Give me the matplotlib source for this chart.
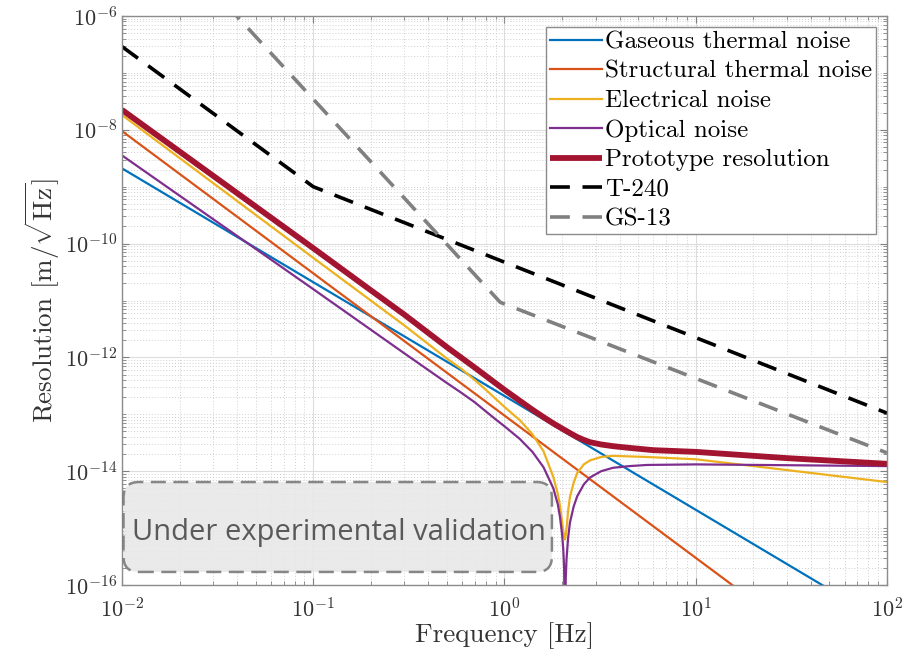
import numpy as np
import matplotlib
matplotlib.use("Agg")
import matplotlib.pyplot as plt
from matplotlib.patches import FancyBboxPatch
from matplotlib.ticker import FixedLocator, LogLocator, NullFormatter, FuncFormatter

plt.rcParams['mathtext.fontset'] = 'cm'

# values (frequency in Hz, resolution in m/sqrt(Hz))
gas_f = [0.01, 100]
gas_v = [2.1e-9, 2.1e-17]

struct_f = [0.01, 100]
struct_v = [9.5e-9, 9.5e-19]

# log10 of the value for the curved traces
elec_f = [0.01, 0.1, 0.3, 0.5, 0.6, 0.7, 0.8, 0.9, 1.0, 1.2, 1.4, 1.6, 1.8, 1.9, 1.95,
          2.0, 2.03, 2.05, 2.07, 2.09, 2.12, 2.15, 2.2, 2.3, 2.4, 2.6, 2.8, 3.2, 3.69,
          5.56, 10, 30, 100]
elec_log = [-7.74, -10.25, -11.44, -12.02, -12.21, -12.40, -12.57, -12.73, -12.87, -13.10,
            -13.35, -13.65, -14.10, -14.40, -14.60, -14.88, -15.05, -15.15, -15.20, -15.12,
            -14.95, -14.70, -14.45, -14.20, -14.03, -13.88, -13.81, -13.75, -13.73,
            -13.75, -13.79, -13.98, -14.19]

opt_f = [0.01, 0.1, 0.3, 0.5, 0.6, 0.7, 0.8, 0.9, 1.0, 1.2, 1.4, 1.6, 1.8, 1.9, 1.95,
         2.0, 2.03, 2.05, 2.065, 2.07, 2.075, 2.09, 2.11, 2.15, 2.2, 2.3, 2.4, 2.6, 2.8,
         3.2, 3.69, 4.5, 5.56, 10, 100]
opt_log = [-8.45, -10.80, -11.93, -12.45, -12.63, -12.79, -12.95, -13.09, -13.21, -13.43,
           -13.66, -13.93, -14.30, -14.58, -14.80, -15.10, -15.38, -15.70, -16.50, -18.0,
           -16.80, -15.90, -15.55, -15.18, -14.90, -14.62, -14.44, -14.23, -14.11,
           -14.00, -13.94, -13.91, -13.89, -13.88, -13.91]

proto_f = [0.01, 0.1, 0.2, 0.3, 0.5, 0.7, 0.84, 1.0, 1.2, 1.4, 1.6, 1.8, 2.0, 2.2,
           2.4, 2.6, 2.8, 3.2, 3.7, 4.5, 6, 10, 30, 100]
proto_log = [-7.65, -10.08, -10.82, -11.25, -11.82, -12.18, -12.38, -12.57, -12.76,
             -12.92, -13.05, -13.16, -13.25, -13.33, -13.40, -13.45, -13.49, -13.53,
             -13.56, -13.59, -13.63, -13.66, -13.77, -13.87]

t240_f = [0.01, 0.1, 100]
t240_v = [2.9e-7, 1.0e-9, 1.05e-13]

gs13_f = [0.035, 0.95, 100]
gs13_v = [1.6e-6, 9.3e-12, 2.1e-14]

labels = ['Gaseous thermal noise', 'Structural thermal noise', 'Electrical noise',
          'Optical noise', 'Prototype resolution', 'T-240', 'GS-13']

fig = plt.figure(figsize=(9.15, 6.63), dpi=100)
ax = fig.add_axes([0.1333, 0.1176, 0.8361, 0.8583])
ax.set_xscale('log')
ax.set_yscale('log')

ax.plot(gas_f, gas_v, color='#0072BD', lw=1.6, label=labels[0])
ax.plot(struct_f, struct_v, color='#D95319', lw=1.6, label=labels[1])
ax.plot(elec_f, 10.0 ** np.array(elec_log), color='#EDB120', lw=1.6, label=labels[2])
ax.plot(opt_f, 10.0 ** np.array(opt_log), color='#7E2F8E', lw=1.6, label=labels[3])
ax.plot(proto_f, 10.0 ** np.array(proto_log), color='#A2142F', lw=4.2, label=labels[4],
        solid_capstyle='butt', solid_joinstyle='round')
ax.plot(t240_f, t240_v, color='black', lw=2.6, ls=(0, (5.5, 3.5)), label=labels[5])
ax.plot(gs13_f, gs13_v, color='#808080', lw=2.6, ls=(0, (5.5, 3.5)), label=labels[6])

ax.set_xlim(1e-2, 1e2)
ax.set_ylim(1e-16, 1e-6)

ax.xaxis.set_major_locator(FixedLocator([1e-2, 1e-1, 1e0, 1e1, 1e2]))
ax.xaxis.set_minor_locator(LogLocator(base=10, subs=np.arange(2, 10), numticks=100))
ax.yaxis.set_major_locator(FixedLocator([1e-16, 1e-14, 1e-12, 1e-10, 1e-8, 1e-6]))
ax.yaxis.set_minor_locator(LogLocator(base=10, subs=np.arange(1, 10), numticks=100))
fmt = FuncFormatter(lambda v, p: r'$\mathsf{10^{%d}}$' % int(round(np.log10(v))))
ax.xaxis.set_major_formatter(fmt)
ax.yaxis.set_major_formatter(fmt)
ax.xaxis.set_minor_formatter(NullFormatter())
ax.yaxis.set_minor_formatter(NullFormatter())

ax.grid(True, which='major', color='#dddddd', lw=0.8, ls='-')
ax.grid(True, which='minor', color='#d0d0d0', lw=0.7, ls=(0, (1, 2)))
ax.set_axisbelow(True)

ax.tick_params(which='both', direction='in', top=True, right=True, colors='#808080',
               labelcolor='#333333', labelsize=16)
ax.tick_params(which='major', length=5, width=0.8)
ax.tick_params(which='minor', length=3, width=0.6)
ax.tick_params(axis='x', pad=9)
for s in ax.spines.values():
    s.set_color('#8c8c8c')
    s.set_linewidth(1.0)

ax.set_xlabel('Frequency [Hz]', family='cmr10', fontsize=19.5, color='#333333', labelpad=0)
ax.set_ylabel(r'Resolution [m/$\sqrt{\mathrm{Hz}}$]', family='cmr10', fontsize=19.5,
              color='#333333', labelpad=2)

leg = ax.legend(loc='upper right', prop={'family': 'cmr10', 'size': 18}, fancybox=False,
                framealpha=1, edgecolor='#8c8c8c', borderaxespad=0.45, handlelength=2.1,
                handletextpad=0.1, labelspacing=0.28, borderpad=0.15)
leg.get_frame().set_linewidth(1.0)

box = FancyBboxPatch((0.002, 0.023), 0.56, 0.158, transform=ax.transAxes,
                     boxstyle='round,pad=0,rounding_size=0.02', mutation_aspect=1.344,
                     facecolor='#e8e8e8', alpha=0.9, edgecolor='#7a7a7a', lw=1.8,
                     ls=(0, (6, 3)), zorder=3)
ax.add_patch(box)
ax.text(0.284, 0.079, 'Under experimental validation', transform=ax.transAxes,
        family='Open Sans', fontsize=21, color='#595959', ha='center', va='baseline', zorder=4)

fig.savefig('out.png', dpi=100)
